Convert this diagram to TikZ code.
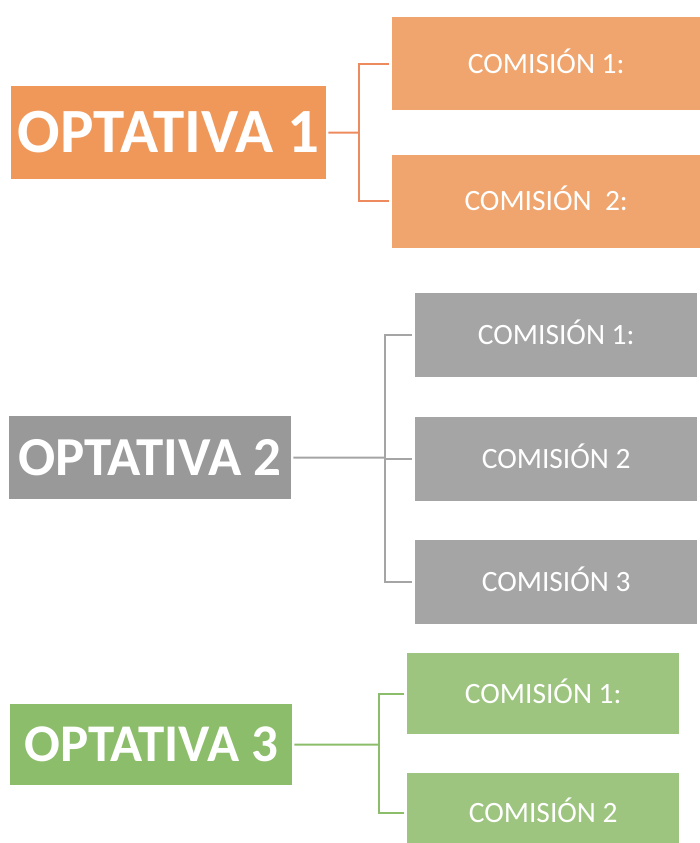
\documentclass[tikz,border=0pt]{standalone}
\usepackage{fontspec}
\setmainfont{Carlito}
\usetikzlibrary{positioning}
\definecolor{orangemain}{HTML}{F0985A}
\definecolor{orangesub}{HTML}{F1A56E}
\definecolor{orangeline}{HTML}{ED8B5E}
\definecolor{graymain}{HTML}{999999}
\definecolor{graysub}{HTML}{A5A5A5}
\definecolor{grayline}{HTML}{A5A5A5}
\definecolor{greenmain}{HTML}{8CBD6A}
\definecolor{greensub}{HTML}{9DC57F}
\definecolor{greenline}{HTML}{8CBD6A}
\tikzset{
 opt/.style
  = {rectangle, inner sep=0pt, text=white, anchor=north west, text depth=0pt},
 com/.style
  = {rectangle, inner sep=0pt, text=white, anchor=north west,
     text height=19pt, text depth=0pt,
     font=\fontsize{29.5}{29.5}\selectfont},
 l/.style
  = {draw, line width=2pt, shorten >=3pt}
}
\begin{document}
\begin{tikzpicture}[x=1pt, y=-1pt]
    \clip (0,0) rectangle (700,843);

    % optativa 1
    \node [opt, fill=orangemain, minimum width=315pt, minimum height=93pt, text height=40pt,
           font=\fontsize{63}{63}\selectfont\bfseries] (opt1) at (11,86) {OPTATIVA 1};
    \node [com, fill=orangesub, minimum width=308pt, minimum height=93pt] (c11) at (392,17) {COMISIÓN 1:};
    \node [com, fill=orangesub, minimum width=308pt, minimum height=93pt, below = 44pt of c11, anchor=north] (c12) {COMISIÓN~~2:};
    \coordinate (j1) at (359,132.5);

    % optativa 2
    \node [opt, fill=graymain, minimum width=282pt, minimum height=83pt, text height=35pt,
           font=\fontsize{55}{55}\selectfont\bfseries] (opt2) at (9,416) {OPTATIVA 2};
    \node [com, fill=graysub, minimum width=282pt, minimum height=84pt] (c21) at (415,293) {COMISIÓN 1:};
    \node [com, fill=graysub, minimum width=282pt, minimum height=84pt, below = 39pt of c21, anchor=north] (c22) {COMISIÓN 2};
    \node [com, fill=graysub, minimum width=282pt, minimum height=84pt, below = 39pt of c22, anchor=north] (c23) {COMISIÓN 3};
    \coordinate (j2) at (385,457.5);

    % optativa 3
    \node [opt, fill=greenmain, minimum width=282pt, minimum height=81pt, text height=34pt,
           font=\fontsize{53}{53}\selectfont\bfseries] (opt3) at (10,704) {OPTATIVA 3};
    \node [com, fill=greensub, minimum width=272pt, minimum height=81pt] (c31) at (407,653) {COMISIÓN 1:};
    \node [com, fill=greensub, minimum width=272pt, minimum height=81pt, below = 38pt of c31, anchor=north] (c32) {COMISIÓN 2};
    \coordinate (j3) at (379,744.5);

    \path [l, orangeline, shorten <=2pt, shorten >=0pt] (opt1.east) -- (j1);
    \path [l, orangeline] (j1) |- (c11.west);
    \path [l, orangeline] (j1) |- (c12.west);

    \path [l, grayline, shorten <=2pt, shorten >=0pt] (opt2.east) -- (j2);
    \path [l, grayline] (j2) |- (c21.west);
    \path [l, grayline] (j2) |- (c22.west);
    \path [l, grayline] (j2) |- (c23.west);

    \path [l, greenline, shorten <=2pt, shorten >=0pt] (opt3.east) -- (j3);
    \path [l, greenline] (j3) |- (c31.west);
    \path [l, greenline] (j3) |- (c32.west);

\end{tikzpicture}
\end{document}
